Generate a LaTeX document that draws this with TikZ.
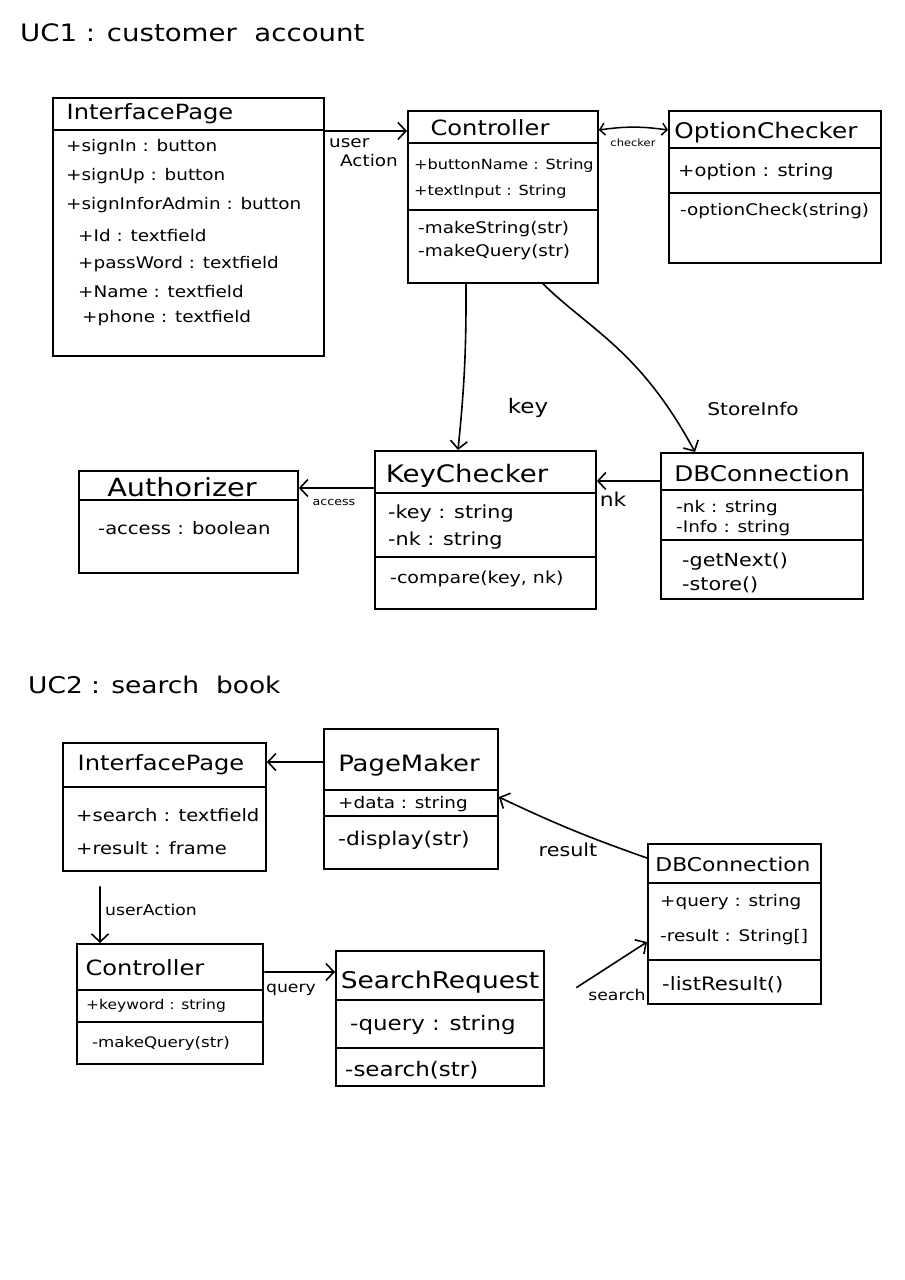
\documentclass[tikz,border=0pt]{standalone}
\usepackage{fontspec}
\setmainfont{DejaVu Sans}[FakeStretch=1.15]
\usetikzlibrary{arrows.meta}
\newcommand{\fs}[1]{\fontsize{#1}{#1}\selectfont}
\begin{document}
\begin{tikzpicture}[x=1pt,y=-1pt,
  box/.style={draw, line width=1.8pt, anchor=north west, inner sep=0pt},
  sep/.style={line width=1.6pt},
  ttl/.style={font=\fs{21}, inner sep=0pt},
  attr/.style={anchor=west, inner sep=0pt, font=\fs{16}},
  lbl/.style={inner sep=0pt, font=\fs{15}},
  head/.style={anchor=west, inner sep=0pt, font=\fs{24}},
  conn/.style={line width=1.6pt, line cap=round, -{Straight Barb[length=8pt,width=17pt]}},
  conn2/.style={line width=1.5pt, line cap=round, {Straight Barb[length=5pt,width=12pt]}-{Straight Barb[length=5pt,width=12pt]}}
]
\useasboundingbox (0,0) rectangle (905,1280);
\fill[white] (0,0) rectangle (905,1280);

% ===== UC1 =====
\node[head] (uc1) at (20,33) {UC1 : customer \ account};

% InterfacePage
\node[box, minimum width=271pt, minimum height=258pt] (ip1) at (52,97) {};
\draw[sep] (ip1.west |- 0,130) -- (ip1.east |- 0,130);
\node[ttl] (ip1t) at (150,114) {InterfacePage};
\node[attr] (ip1a) at (66,147) {+signIn : button};
\node[attr] (ip1b) at (66,176) {+signUp : button};
\node[attr] (ip1c) at (66,205) {+signInforAdmin : button};
\node[attr] (ip1d) at (78,236) {+Id : textfield};
\node[attr] (ip1e) at (78,264) {+passWord : textfield};
\node[attr] (ip1f) at (78,292) {+Name : textfield};
\node[attr] (ip1g) at (82,318) {+phone : textfield};

% Controller
\node[box, minimum width=190pt, minimum height=172pt] (c1) at (407,110) {};
\draw[sep] (c1.west |- 0,143) -- (c1.east |- 0,143);
\draw[sep] (c1.west |- 0,210) -- (c1.east |- 0,210);
\node[ttl] (c1t) at (490,128) {Controller};
\node[attr, font=\fs{14}] (c1a) at (414,166) {+buttonName : String};
\node[attr, font=\fs{14}] (c1b) at (414,192) {+textInput : String};
\node[attr] (c1c) at (418,229) {-makeString(str)};
\node[attr] (c1d) at (418,252) {-makeQuery(str)};

% OptionChecker
\node[box, minimum width=212pt, minimum height=152pt] (oc) at (668,110) {};
\draw[sep] (oc.west |- 0,148) -- (oc.east |- 0,148);
\draw[sep] (oc.west |- 0,193) -- (oc.east |- 0,193);
\node[ttl, font=\fs{21.5}] (oct) at (766,133) {OptionChecker};
\node[attr, font=\fs{17}] (oca) at (678,172) {+option : string};
\node[attr] (ocb) at (680,211) {-optionCheck(string)};

% Authorizer
\node[box, minimum width=219pt, minimum height=102pt] (au) at (78,470) {};
\draw[sep] (au.west |- 0,500) -- (au.east |- 0,500);
\node[ttl, font=\fs{25}] (aut) at (182,487) {Authorizer};
\node[attr, font=\fs{17}] (aua) at (98,528) {-access : boolean};

% KeyChecker
\node[box, minimum width=221pt, minimum height=158pt] (kc) at (374,450) {};
\draw[sep] (kc.west |- 0,493) -- (kc.east |- 0,493);
\draw[sep] (kc.west |- 0,557) -- (kc.east |- 0,557);
\node[ttl, font=\fs{24}] (kct) at (467,476) {KeyChecker};
\node[attr, font=\fs{18}] (kca) at (388,514) {-key : string};
\node[attr, font=\fs{18}] (kcb) at (388,541) {-nk : string};
\node[attr, font=\fs{16.5}] (kcc) at (390,579) {-compare(key, nk)};

% DBConnection (UC1)
\node[box, minimum width=202pt, minimum height=146pt] (db1) at (660,452) {};
\draw[sep] (db1.west |- 0,490) -- (db1.east |- 0,490);
\draw[sep] (db1.west |- 0,540) -- (db1.east |- 0,540);
\node[ttl, font=\fs{21.5}] (db1t) at (762,473) {DBConnection};
\node[attr] (db1a) at (676,508) {-nk : string};
\node[attr] (db1b) at (676,528) {-Info : string};
\node[attr, font=\fs{18}] (db1c) at (682,562) {-getNext()};
\node[attr, font=\fs{18}] (db1d) at (682,585) {-store()};

% UC1 connectors
\draw[conn] (ip1.east |- 0,131) -- (c1.west |- 0,131);
\node[lbl, font=\fs{16}, align=left, anchor=north west] (ualbl) at (329,138) {user\\[3pt]\hspace*{11pt}Action};
\draw[conn2] (c1.east |- 0,130) to[bend left=8] (oc.west |- 0,130);
\node[lbl, font=\fs{10}] (chk) at (633,143) {checker};
\draw[conn] (c1.south -| 466,0) to[bend left=3] (kc.north -| 458,0);
\node[lbl, font=\fs{20}] (keylbl) at (528,408) {key};
\draw[conn] (c1.south -| 543,0) .. controls (590,330) and (640,350) .. (db1.north -| 695,0);
\node[lbl, font=\fs{17.5}] (silbl) at (753,409) {StoreInfo};
\draw[conn] (db1.west |- 0,481) -- (kc.east |- 0,481);
\node[lbl, font=\fs{19}] (nklbl) at (613,499) {nk};
\draw[conn] (kc.west |- 0,488) -- (au.east |- 0,488);
\node[lbl, font=\fs{11}] (aclbl) at (334,502) {access};

% ===== UC2 =====
\node[head, font=\fs{23}] (uc2) at (28,685) {UC2 : search \ book};

% InterfacePage (UC2)
\node[box, minimum width=203pt, minimum height=128pt] (ip2) at (62,742) {};
\draw[sep] (ip2.west |- 0,787) -- (ip2.east |- 0,787);
\node[ttl] (ip2t) at (161,765) {InterfacePage};
\node[attr, font=\fs{17}] (ip2a) at (76,815) {+search : textfield};
\node[attr, font=\fs{17}] (ip2b) at (76,848) {+result : frame};

% PageMaker
\node[box, minimum width=174pt, minimum height=140pt] (pm) at (323,728) {};
\draw[sep] (pm.west |- 0,790) -- (pm.east |- 0,790);
\draw[sep] (pm.west |- 0,816) -- (pm.east |- 0,816);
\node[ttl, font=\fs{22.5}] (pmt) at (409,765) {PageMaker};
\node[attr] (pma) at (338,804) {+data : string};
\node[attr, font=\fs{19}] (pmb) at (338,840) {-display(str)};

% DBConnection (UC2)
\node[box, minimum width=173pt, minimum height=160pt] (db2) at (647,843) {};
\draw[sep] (db2.west |- 0,883) -- (db2.east |- 0,883);
\draw[sep] (db2.west |- 0,960) -- (db2.east |- 0,960);
\node[ttl, font=\fs{19}] (db2t) at (733,864) {DBConnection};
\node[attr] (db2a) at (660,902) {+query : string};
\node[attr] (db2b) at (660,937) {-result : String[]};
\node[attr, font=\fs{18.5}] (db2c) at (662,985) {-listResult()};

% Controller (UC2)
\node[box, minimum width=186pt, minimum height=120pt] (c2) at (76,943) {};
\draw[sep] (c2.west |- 0,990) -- (c2.east |- 0,990);
\draw[sep] (c2.west |- 0,1022) -- (c2.east |- 0,1022);
\node[ttl] (c2t) at (145,968) {Controller};
\node[attr, font=\fs{13.5}] (c2a) at (86,1006) {+keyword : string};
\node[attr, font=\fs{14.5}] (c2b) at (92,1043) {-makeQuery(str)};

% SearchRequest
\node[box, minimum width=208pt, minimum height=135pt] (sr) at (335,950) {};
\draw[sep] (sr.west |- 0,1000) -- (sr.east |- 0,1000);
\draw[sep] (sr.west |- 0,1048) -- (sr.east |- 0,1048);
\node[ttl, font=\fs{23}] (srt) at (440,982) {SearchRequest};
\node[attr, font=\fs{20}] (sra) at (350,1025) {-query : string};
\node[attr, font=\fs{20}] (srb) at (345,1070) {-search(str)};

% UC2 connectors
\draw[conn] (pm.west |- 0,762) -- (ip2.east |- 0,762);
\draw[conn] (db2.west |- 0,858) to[bend left=3] (pm.east |- 0,797);
\node[lbl, font=\fs{18}] (reslbl) at (568,850) {result};
\draw[conn, shorten <=15pt] (ip2.south -| 100,0) -- (c2.north -| 100,0);
\node[lbl, font=\fs{15}, anchor=west] (ualbl2) at (105,910) {userAction};
\draw[conn, shorten <=1pt] (c2.east |- 0,972) -- (sr.west |- 0,972);
\node[lbl, font=\fs{15}] (qlbl) at (291,990) {query};
\draw[conn, shorten <=38pt] (sr.east |- 0,1008) -- (db2.west |- 0,942);
\node[lbl, font=\fs{15}] (srlbl) at (617,995) {search};
\end{tikzpicture}
\end{document}
